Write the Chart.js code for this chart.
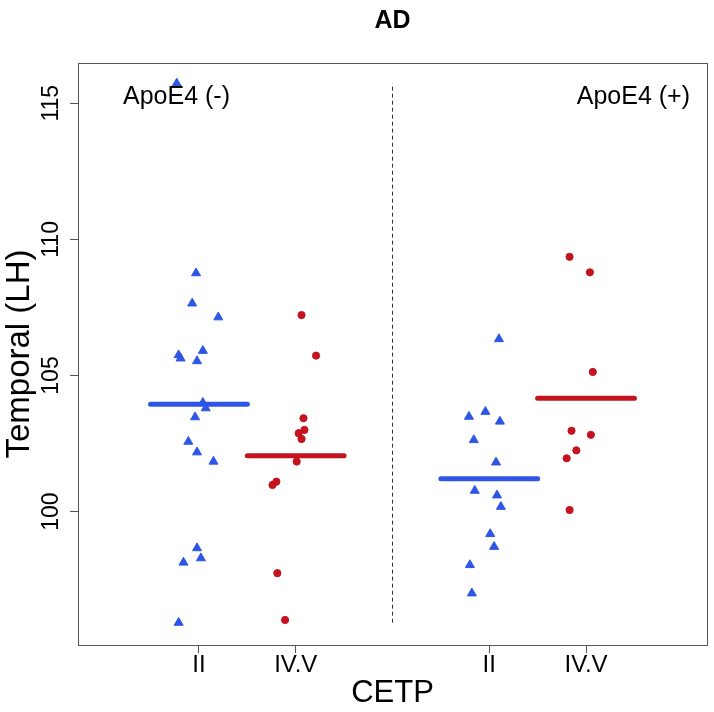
<!DOCTYPE html>
<html>
<head>
<meta charset="utf-8">
<script src="https://cdn.jsdelivr.net/npm/chart.js@4.4.1/dist/chart.umd.min.js"></script>
<style>
  html, body { margin: 0; padding: 0; background: #fff; }
  #wrap { width: 714px; height: 712px; }
</style>
</head>
<body>
<div id="wrap"><canvas id="chart"></canvas></div>
<script>
// categories / tick labels
const groupLabels = ['II', 'IV.V', 'II', 'IV.V'];
const groupPos = [1, 2, 4, 5];
const yTicks = [100, 105, 110, 115];

// ApoE4 (-), CETP II
const negII = [115.73, 108.76, 107.65, 107.14, 105.91, 105.75, 105.63, 105.53, 104.00, 103.80, 103.47, 102.57, 102.18, 101.84, 98.66, 98.29, 98.13, 95.92];
const negIIJit = [-0.23, -0.03, -0.07, 0.20, 0.04, -0.21, -0.19, -0.02, 0.04, 0.07, -0.04, -0.11, -0.02, 0.15, -0.02, 0.02, -0.16, -0.21];
// ApoE4 (-), CETP IV.V
const negIVV = [107.22, 105.73, 103.43, 103.00, 102.88, 102.67, 101.84, 101.10, 100.98, 97.74, 96.02];
const negIVVJit = [0.06, 0.21, 0.08, 0.09, 0.03, 0.06, 0.01, -0.20, -0.24, -0.19, -0.11];
// ApoE4 (+), CETP II
const posII = [106.34, 103.67, 103.49, 103.31, 102.63, 101.81, 100.77, 100.60, 100.18, 99.18, 98.71, 98.04, 97.00];
const posIIJit = [0.10, -0.04, -0.21, 0.11, -0.16, 0.07, -0.15, 0.08, 0.12, 0.01, 0.05, -0.20, -0.18];
// ApoE4 (+), CETP IV.V
const posIVV = [109.36, 108.79, 105.13, 102.97, 102.82, 102.25, 101.96, 100.06];
const posIVVJit = [-0.17, 0.04, 0.07, -0.15, 0.05, -0.10, -0.20, -0.17];

const BLUE = '#2d55e6';
const RED = '#c4121e';

const groups = [
    { vals: negII, jit: negIIJit, color: BLUE, style: 'triangle', r: 5.2 },
    { vals: negIVV, jit: negIVVJit, color: RED, style: 'circle', r: 3.6 },
    { vals: posII, jit: posIIJit, color: BLUE, style: 'triangle', r: 5.2 },
    { vals: posIVV, jit: posIVVJit, color: RED, style: 'circle', r: 3.6 }
];

const mean = arr => arr.reduce((a, b) => a + b, 0) / arr.length;
const allVals = [].concat(negII, negIVV, posII, posIVV);

const datasets = [];

// divider between ApoE4 groups, spans data range
datasets.push({
    data: [{ x: 3, y: Math.min(...allVals) }, { x: 3, y: Math.max(...allVals) }],
    showLine: true, borderColor: '#333', borderWidth: 1, borderDash: [4, 3],
    pointRadius: 0
});

groups.forEach((g, i) => {
    const cx = groupPos[i];
    datasets.push({
        data: g.vals.map((v, k) => ({ x: cx + g.jit[k], y: v })),
        pointStyle: g.style, pointRadius: g.r, pointHoverRadius: g.r,
        backgroundColor: g.color, borderColor: g.color, pointBorderWidth: 1
    });
    const m = mean(g.vals);
    datasets.push({
        data: [{ x: cx - 0.5, y: m }, { x: cx + 0.5, y: m }],
        showLine: true, borderColor: g.color, borderWidth: 5, borderCapStyle: 'round',
        pointRadius: 0
    });
});

// title, axis titles, box and group notes
const decor = {
    id: 'decor',
    afterDraw(chart) {
        const { ctx, chartArea: a } = chart;
        ctx.save();
        ctx.strokeStyle = '#555';
        ctx.lineWidth = 1;
        ctx.strokeRect(Math.round(a.left) + 0.5, Math.round(a.top) + 0.5,
            Math.round(a.right - a.left), Math.round(a.bottom - a.top));

        ctx.fillStyle = '#000';
        ctx.textBaseline = 'middle';
        ctx.textAlign = 'center';
        ctx.font = 'bold 25px "Liberation Sans", Arial, sans-serif';
        ctx.fillText('AD', (a.left + a.right) / 2, 21);

        ctx.font = '31px "Liberation Sans", Arial, sans-serif';
        ctx.fillText('CETP', (a.left + a.right) / 2, 693);

        ctx.save();
        ctx.font = '33px "Liberation Sans", Arial, sans-serif';
        ctx.translate(20, (a.top + a.bottom) / 2);
        ctx.rotate(-Math.PI / 2);
        ctx.fillText('Temporal (LH)', 0, 0);
        ctx.restore();

        ctx.font = '25px "Liberation Sans", Arial, sans-serif';
        ctx.textAlign = 'left';
        ctx.fillText('ApoE4 (-)', 123, 97);
        ctx.textAlign = 'right';
        ctx.fillText('ApoE4 (+)', 690, 97);
        ctx.restore();
    }
};

new Chart(document.getElementById('chart'), {
    type: 'scatter',
    data: { datasets },
    plugins: [decor],
    options: {
        responsive: true,
        maintainAspectRatio: false,
        animation: false,
        layout: { padding: { top: 63, right: 7, left: 0, bottom: 0 } },
        plugins: { legend: { display: false }, tooltip: { enabled: false }, title: { display: false } },
        scales: {
            x: {
                type: 'linear', min: -0.25, max: 6.25,
                afterBuildTicks: s => { s.ticks = groupPos.map(v => ({ value: v })); },
                afterFit: s => { s.height = 67; },
                grid: { display: true, drawOnChartArea: false, drawTicks: true, tickLength: 8, color: '#555' },
                border: { display: false },
                ticks: {
                    autoSkip: false, maxRotation: 0, padding: -2, color: '#000',
                    font: { family: '"Liberation Sans", Arial, sans-serif', size: 24 },
                    callback: v => groupLabels[groupPos.indexOf(v)]
                }
            },
            y: {
                type: 'linear', min: 95.1, max: 116.48,
                afterBuildTicks: s => { s.ticks = yTicks.map(v => ({ value: v })); },
                afterFit: s => { s.width = 78; },
                grid: { display: true, drawOnChartArea: false, drawTicks: true, tickLength: 8, color: '#555' },
                border: { display: false },
                ticks: {
                    minRotation: 90, maxRotation: 90, crossAlign: 'center', padding: -1, color: '#000',
                    font: { family: '"Liberation Sans", Arial, sans-serif', size: 23 }
                }
            }
        }
    }
});
</script>
</body>
</html>
